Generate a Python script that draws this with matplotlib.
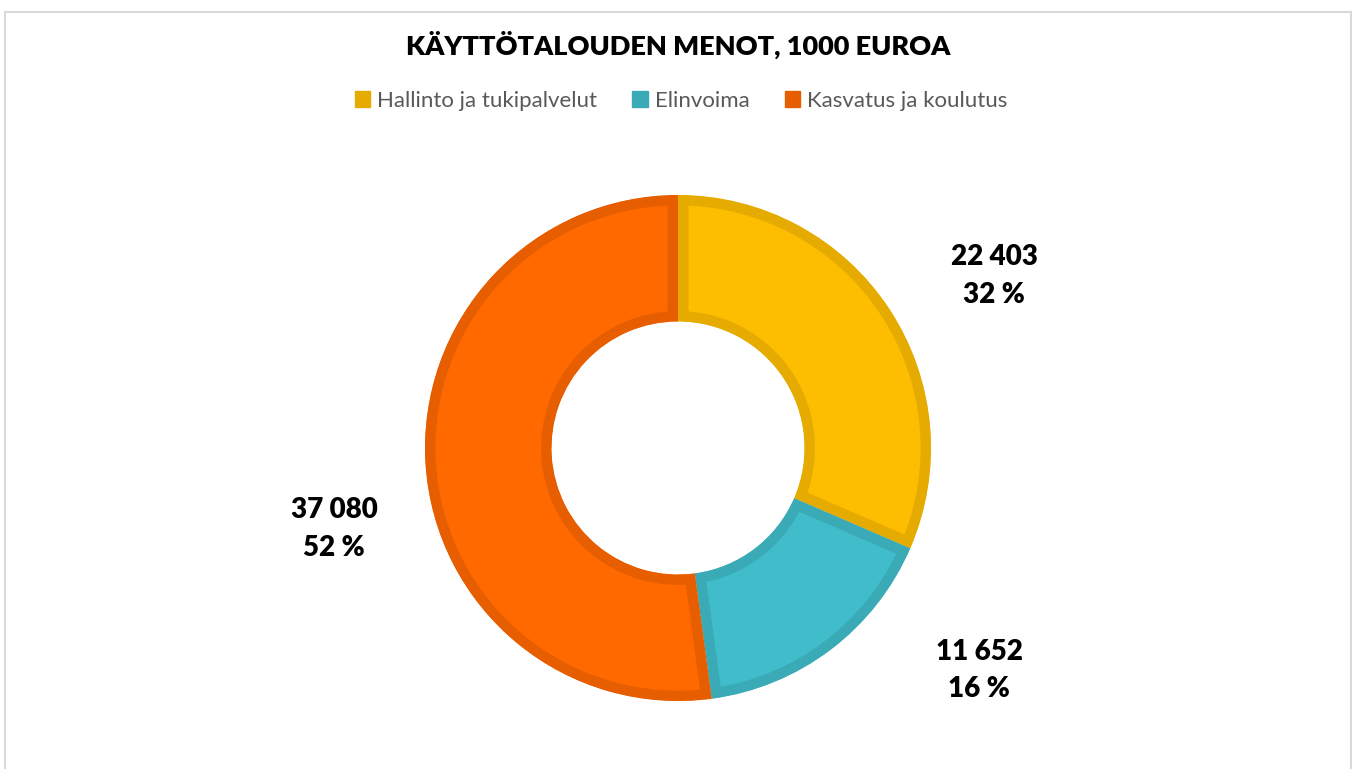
import matplotlib.pyplot as plt
from matplotlib.patches import Patch, Rectangle

title = 'KÄYTTÖTALOUDEN MENOT, 1000 EUROA'
categories = ['Hallinto ja tukipalvelut', 'Elinvoima', 'Kasvatus ja koulutus']
values = [22403, 11652, 37080]
percents = [32, 16, 52]  # as printed on the chart
fill_colors = ['#FDBD00', '#41BCCB', '#FF6900']
edge_colors = ['#E6AB00', '#3AAAB6', '#E65E00']
# label spots in data units (radius = 1)
label_xy = [(1.25, 0.68), (1.19, -0.88), (-1.36, -0.32)]

fig = plt.figure(figsize=(13.56, 7.69), dpi=100)
fig.patch.set_facecolor('white')
# chart frame
fig.patches.append(Rectangle((5 / 1356, -0.01), 1346 / 1356, 1 - 4 / 769, transform=fig.transFigure,
                             fill=False, edgecolor='#D9D9D9', linewidth=1.5))

ax = fig.add_axes([0, 0, 1, 1])
wedges, _ = ax.pie(values, colors=fill_colors, startangle=90, counterclock=False,
                   radius=1, wedgeprops=dict(width=0.5), frame=True)
ax.set_xlim(-678 / 253, 678 / 253)
ax.set_ylim(-321 / 253, 448 / 253)
ax.axis('off')
for w, ec in zip(wedges, edge_colors):
    w.set_edgecolor(ec)
    w.set_linewidth(15)
    w.set_clip_on(True)
    w.set_clip_path(w)

for v, p, (x, y) in zip(values, percents, label_xy):
    txt = f'{v:,}'.replace(',', ' ') + f'\n{p} %'
    ax.text(x, y, txt, ha='center', va='center', fontsize=20, fontweight='heavy',
            family='Lato', color='black', linespacing=1.55)

fig.text(0.5, 1 - 45 / 769, title, ha='center', va='center', fontsize=19.5,
         fontweight='heavy', family='Lato', color='black')

handles = [Patch(facecolor=c, edgecolor=c) for c in edge_colors]
fig.legend(handles, categories, loc='center', bbox_to_anchor=(681 / 1356, 1 - 101 / 769),
           ncol=3, frameon=False, handlelength=0.7, handleheight=0.7, handletextpad=0.3,
           columnspacing=1.6, prop={'family': 'Lato', 'size': 16}, labelcolor='#595959')

fig.savefig('out.png', dpi=100)
